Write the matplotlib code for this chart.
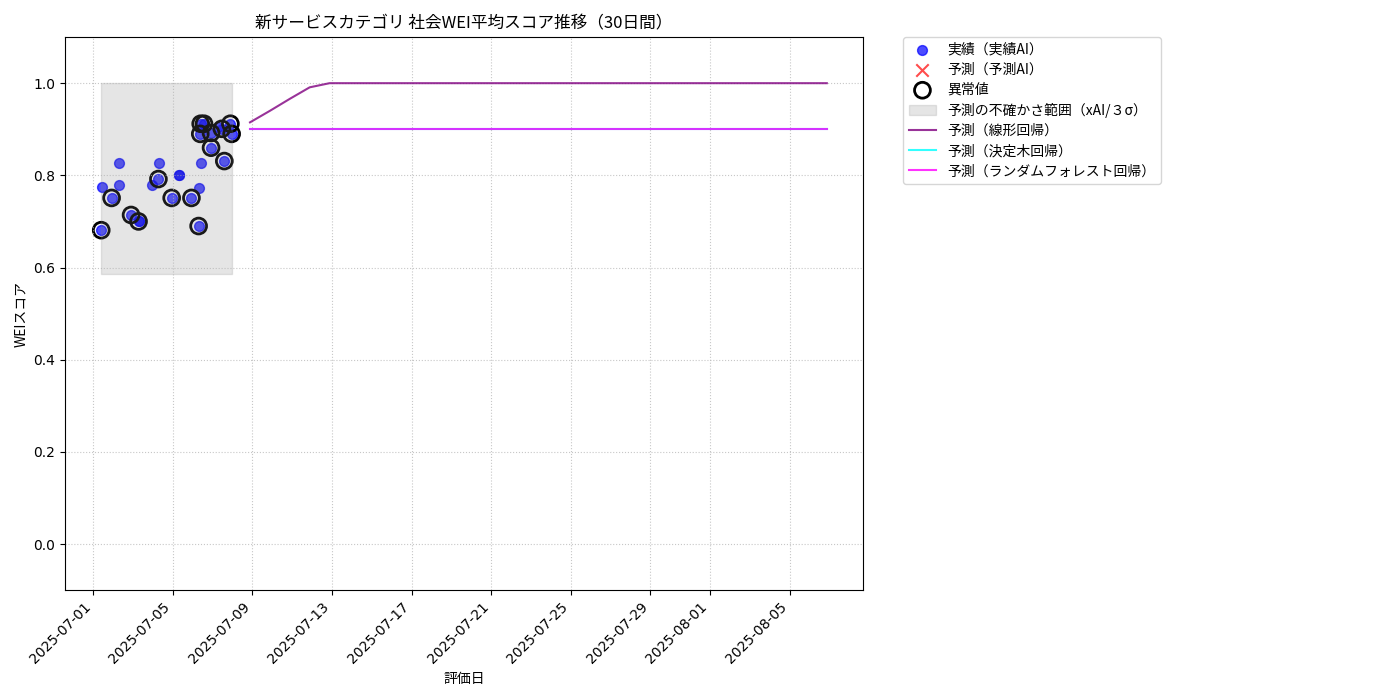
import matplotlib
matplotlib.use("Agg")
import matplotlib.pyplot as plt
import matplotlib.dates as mdates
import pandas as pd

plt.rcParams['font.family'] = ['Noto Sans CJK JP', 'DejaVu Sans']

# 実績データ (評価日時, スコア, 異常値フラグ)
actual_times = [
    "2025-07-01 09:30", "2025-07-01 10:30", "2025-07-01 22:00",
    "2025-07-02 07:00", "2025-07-02 07:00", "2025-07-02 21:30",
    "2025-07-03 06:30", "2025-07-03 06:40", "2025-07-03 22:20",
    "2025-07-04 06:30", "2025-07-04 07:10", "2025-07-04 22:30",
    "2025-07-05 07:30", "2025-07-05 07:30", "2025-07-05 22:20",
    "2025-07-06 07:30", "2025-07-06 07:00", "2025-07-06 09:30",
    "2025-07-06 09:30", "2025-07-06 13:30", "2025-07-06 09:00",
    "2025-07-06 22:00", "2025-07-06 22:00", "2025-07-07 06:40",
    "2025-07-07 11:00", "2025-07-07 14:00", "2025-07-07 21:20",
    "2025-07-07 22:50",
]
actual_scores = [
    0.681, 0.774, 0.751,
    0.826, 0.780, 0.714,
    0.700, 0.702, 0.779,
    0.792, 0.826, 0.751,
    0.800, 0.800, 0.751,
    0.773, 0.690, 0.826,
    0.912, 0.912, 0.890,
    0.892, 0.860, 0.905,
    0.901, 0.831, 0.912,
    0.890,
]
is_outlier = [
    1, 0, 1,
    0, 0, 1,
    1, 0, 0,
    1, 0, 1,
    0, 0, 1,
    0, 1, 0,
    1, 1, 1,
    1, 1, 0,
    1, 1, 1,
    1,
]

# 不確かさ範囲 (3σ)
band_lower = 0.586
band_upper = 1.0

# 予測 (30日間)
forecast_start = "2025-07-08 21:00"
linear_pred = [0.915, 0.940, 0.966, 0.991, 1.0, 1.0, 1.0, 1.0, 1.0, 1.0,
               1.0, 1.0, 1.0, 1.0, 1.0, 1.0, 1.0, 1.0, 1.0, 1.0,
               1.0, 1.0, 1.0, 1.0, 1.0, 1.0, 1.0, 1.0, 1.0, 1.0]
tree_pred = [0.9, 0.9, 0.9, 0.9, 0.9, 0.9, 0.9, 0.9, 0.9, 0.9,
             0.9, 0.9, 0.9, 0.9, 0.9, 0.9, 0.9, 0.9, 0.9, 0.9,
             0.9, 0.9, 0.9, 0.9, 0.9, 0.9, 0.9, 0.9, 0.9, 0.9]
forest_pred = [0.9, 0.9, 0.9, 0.9, 0.9, 0.9, 0.9, 0.9, 0.9, 0.9,
               0.9, 0.9, 0.9, 0.9, 0.9, 0.9, 0.9, 0.9, 0.9, 0.9,
               0.9, 0.9, 0.9, 0.9, 0.9, 0.9, 0.9, 0.9, 0.9, 0.9]

df = pd.DataFrame({"date": pd.to_datetime(actual_times),
                   "score": actual_scores,
                   "outlier": is_outlier})
fdates = pd.date_range(forecast_start, periods=len(linear_pred), freq="D")

fig, ax = plt.subplots(figsize=(14, 7), dpi=100)
fig.subplots_adjust(left=0.0464, right=0.6165, top=0.947, bottom=0.157)

ax.scatter(df["date"], df["score"], color="blue", alpha=0.7, s=50, label="実績（実績AI）")
ax.scatter([], [], color="red", marker="x", alpha=0.7, s=80, label="予測（予測AI）")
out = df[df["outlier"] == 1]
ax.scatter(out["date"], out["score"], facecolors="none", edgecolors="black",
           s=130, linewidths=2, label="異常値")

ax.fill_between([df["date"].min(), df["date"].max()], band_lower, band_upper,
                color="gray", alpha=0.2, label="予測の不確かさ範囲（xAI/３σ）")

ax.plot(fdates, linear_pred, color="purple", alpha=0.8, lw=1.5, label="予測（線形回帰）")
ax.plot(fdates, tree_pred, color="cyan", alpha=0.8, lw=1.5, label="予測（決定木回帰）")
ax.plot(fdates, forest_pred, color="magenta", alpha=0.8, lw=1.5, label="予測（ランダムフォレスト回帰）")

ax.set_ylim(-0.1, 1.1)
ax.set_title("新サービスカテゴリ 社会WEI平均スコア推移（30日間）", fontsize=12)
ax.set_xlabel("評価日")
ax.set_ylabel("WEIスコア")
ax.xaxis.set_major_formatter(mdates.DateFormatter("%Y-%m-%d"))
plt.setp(ax.get_xticklabels(), rotation=45, ha="right", fontfamily="DejaVu Sans")
plt.setp(ax.get_yticklabels(), fontfamily="DejaVu Sans")
ax.grid(True, linestyle=":", alpha=0.7)
ax.legend(loc="upper left", bbox_to_anchor=(1.05, 1), borderaxespad=0.,
          labelspacing=0.44)

fig.savefig("out.png")
